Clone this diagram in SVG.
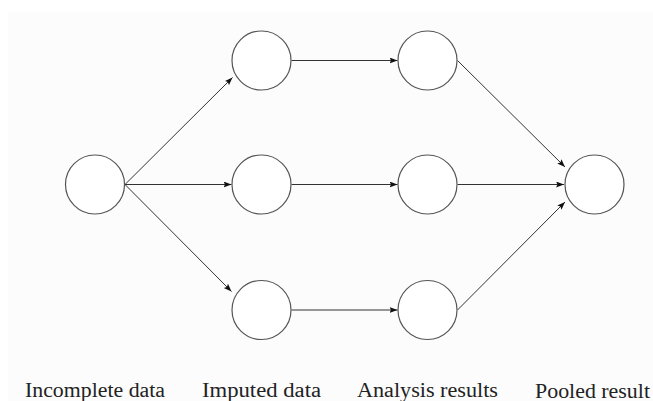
<svg xmlns="http://www.w3.org/2000/svg" width="653" height="401" viewBox="0 0 653 401">
  <defs>
    <marker id="tip" markerWidth="9" markerHeight="7" refX="8" refY="3" orient="auto" markerUnits="userSpaceOnUse">
      <path d="M0,0 L8,3 L0,6 L1.5,3 z" fill="#111"/>
    </marker>
    <style>
      .node { fill: #ffffff; stroke: #555; stroke-width: 1.2; }
      .edge { fill: none; stroke: #333; stroke-width: 1; marker-end: url(#tip); }
      .label { font-size: 20px; fill: #222; }
    </style>
  </defs>

  <rect x="0" y="0" width="653" height="401" fill="#ffffff"/>
  <rect x="8" y="12" width="645" height="389" fill="#fcfcfc"/>

  <!-- connectors -->
  <g id="connectors">
    <line class="edge" x1="125" y1="184.5" x2="232.5" y2="77.5"/>
    <line class="edge" x1="125" y1="184.5" x2="231.5" y2="184.5"/>
    <line class="edge" x1="125" y1="184.5" x2="231.5" y2="291.5"/>
    <line class="edge" x1="291.5" y1="60.5" x2="397.5" y2="60.5"/>
    <line class="edge" x1="291.5" y1="184.5" x2="397.5" y2="184.5"/>
    <line class="edge" x1="291.5" y1="310" x2="397.5" y2="310"/>
    <line class="edge" x1="457.5" y1="60.5" x2="565" y2="167"/>
    <line class="edge" x1="457.5" y1="184.5" x2="564" y2="184.5"/>
    <line class="edge" x1="457.5" y1="310" x2="565" y2="202"/>
  </g>

  <!-- nodes -->
  <g id="incomplete"><circle class="node" cx="95" cy="184.5" r="29.5"/></g>
  <g id="imputed-1"><circle class="node" cx="261.5" cy="60.5" r="29.5"/></g>
  <g id="imputed-2"><circle class="node" cx="261.5" cy="184.5" r="29.5"/></g>
  <g id="imputed-3"><circle class="node" cx="261.5" cy="310" r="29.5"/></g>
  <g id="analysis-1"><circle class="node" cx="427.5" cy="60.5" r="29.5"/></g>
  <g id="analysis-2"><circle class="node" cx="427.5" cy="184.5" r="29.5"/></g>
  <g id="analysis-3"><circle class="node" cx="427.5" cy="310" r="29.5"/></g>
  <g id="pooled"><circle class="node" cx="594.5" cy="184.5" r="29.5"/></g>

  <!-- column captions, each centred under its column -->
  <g id="captions" font-family="'Liberation Serif', 'DejaVu Serif', serif">
    <text class="label" x="25" y="396.5" textLength="140" lengthAdjust="spacingAndGlyphs">Incomplete data</text>
    <text class="label" x="202" y="396.5" textLength="119" lengthAdjust="spacingAndGlyphs">Imputed data</text>
    <text class="label" x="357" y="396.5" textLength="141" lengthAdjust="spacingAndGlyphs">Analysis results</text>
    <text class="label" x="535" y="398" textLength="115" lengthAdjust="spacingAndGlyphs">Pooled result</text>
  </g>
</svg>
